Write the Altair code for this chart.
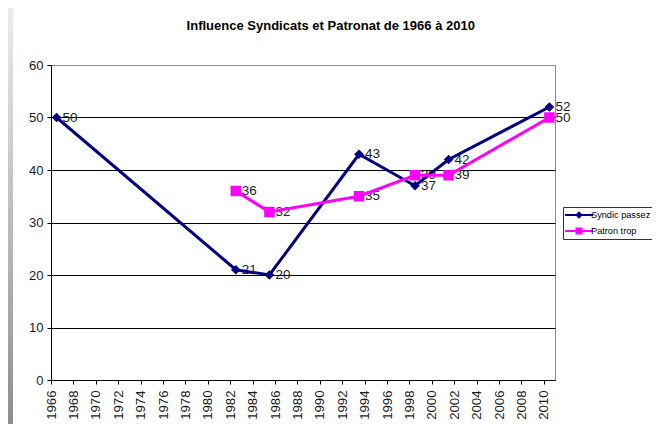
import altair as alt
import pandas as pd

title_text = "Influence Syndicats et Patronat de 1966 à 2010"
series_names = ["Syndic passez", "Patron trop"]
series_colors = ["#000080", "#ff00ff"]

syndic_years = [1966, 1982, 1985, 1993, 1998, 2001, 2010]
syndic_values = [50, 21, 20, 43, 37, 42, 52]
patron_years = [1982, 1985, 1993, 1998, 2001, 2010]
patron_values = [36, 32, 35, 39, 39, 50]

x_tick_years = list(range(1966, 2011, 2))
y_tick_values = [0, 10, 20, 30, 40, 50, 60]

df = pd.DataFrame({
    "year": syndic_years + patron_years,
    "value": syndic_values + patron_values,
    "series": [series_names[0]] * len(syndic_years) + [series_names[1]] * len(patron_years),
})

FONT = "Liberation Sans"
W, H = 504, 315
PAD_L, PAD_T, PAD_R, PAD_B = 43, 57, 97, 44
CANVAS_H = PAD_T + H + PAD_B

# legend symbols: line segment with marker (custom paths)
sym_syndic = "M-1,-0.17L3.667,-0.17L3.667,0.17L-1,0.17Z M1.333,-0.62L1.953,0L1.333,0.62L0.713,0Z"
sym_patron = "M-1,-0.17L3.667,-0.17L3.667,0.17L-1,0.17Z M0.75,-0.58L1.916,-0.58L1.916,0.58L0.75,0.58Z"

x_enc = alt.X(
    "xpos:Q",
    scale=alt.Scale(domain=[1966, 2011], nice=False, zero=False),
    axis=alt.Axis(values=x_tick_years, format="d", labelAngle=-90, title=None, grid=False,
                  domainColor="black", tickColor="black", tickSize=4, labelFontSize=13.2,
                  labelPadding=6, labelColor="#1a1a1a", labelFont=FONT, labelFlush=False,
                  labelOverlap=False),
)
y_enc = alt.Y(
    "value:Q",
    scale=alt.Scale(domain=[0, 60], nice=False),
    axis=alt.Axis(values=y_tick_values, title=None, grid=True,
                  gridColor={"condition": {"test": "datum.value >= 60", "value": "#8c8c8c"}, "value": "black"},
                  domainColor="black", tickColor="black", tickSize=4, labelFontSize=13,
                  labelPadding=4, labelColor="#1a1a1a", labelFont=FONT, labelFlush=False),
)
color_plain = alt.Color("series:N", scale=alt.Scale(domain=series_names, range=series_colors))

legend_def = alt.Legend(title=None, orient="none", legendX=512, legendY=142, direction="vertical",
                        symbolSize=144, labelFont=FONT, labelFontSize=9.2, labelColor="black",
                        labelOffset=14, rowPadding=4, padding=2, strokeColor="#333333",
                        symbolOpacity=1, symbolStrokeWidth=0, labelLimit=300)

base = alt.Chart(df).transform_calculate(xpos="datum.year + 0.5")

# invisible layer that carries the legend (first, so its legend settings win)
legend_layer = base.mark_point(filled=True, opacity=0).encode(
    x=x_enc, y=y_enc,
    color=alt.Color("series:N", scale=alt.Scale(domain=series_names, range=series_colors), legend=legend_def),
    shape=alt.Shape("series:N", scale=alt.Scale(domain=series_names, range=[sym_syndic, sym_patron]), legend=legend_def),
)

labels = base.mark_text(align="left", baseline="middle", dx=6, fontSize=13.5, font=FONT,
                        color="#222222").encode(x=x_enc, y=y_enc, text="value:Q")

lines = base.mark_line(strokeWidth=3).encode(x=x_enc, y=y_enc, color=color_plain)

pts_syndic = base.transform_filter(alt.datum.series == series_names[0]).mark_point(
    shape="diamond", filled=True, size=95, opacity=1).encode(x=x_enc, y=y_enc, color=color_plain)
pts_patron = base.transform_filter(alt.datum.series == series_names[1]).mark_point(
    shape="square", filled=True, size=110, opacity=1).encode(x=x_enc, y=y_enc, color=color_plain)

grad = alt.Gradient(gradient="linear", x1=0, x2=0, y1=0, y2=1,
                    stops=[alt.GradientStop(color="#ececec", offset=0),
                           alt.GradientStop(color="#8e8e8e", offset=1)])
frame_df = pd.DataFrame({"k": [0]})
strip_left = alt.Chart(frame_df).mark_rect(color=grad).encode(
    x=alt.value(-PAD_L), x2=alt.value(-PAD_L + 5), y=alt.value(-PAD_T), y2=alt.value(CANVAS_H - PAD_T))

chart = alt.layer(legend_layer, strip_left, labels, lines, pts_syndic, pts_patron).properties(
    width=W, height=H,
    title=alt.TitleParams(title_text, font=FONT, fontSize=13, fontWeight="bold", color="black",
                          anchor="middle", frame="bounds", offset=-25),
    padding={"left": PAD_L, "top": PAD_T, "right": PAD_R, "bottom": PAD_B},
    autosize=alt.AutoSizeParams(type="none"),
    background="white",
).configure_view(fill="white", stroke="#8c8c8c", strokeWidth=1)

chart.save("out.html", embed_options={"renderer": "svg", "actions": False})
